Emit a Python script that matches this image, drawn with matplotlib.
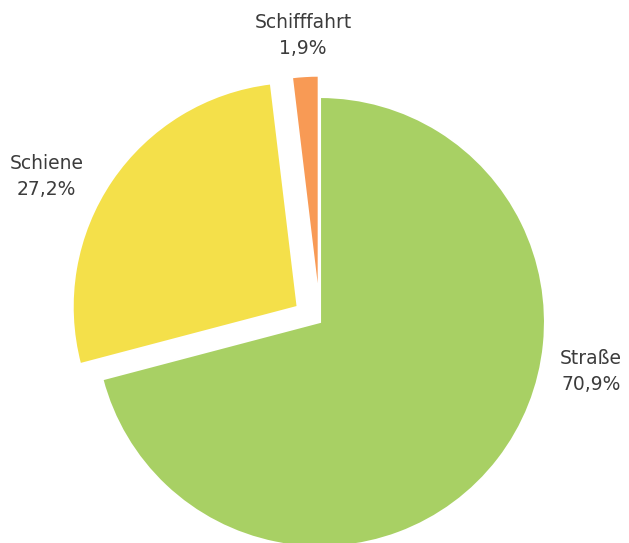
import matplotlib
matplotlib.use('Agg')
import matplotlib.pyplot as plt

labels = ['Straße', 'Schiene', 'Schifffahrt']
values = [70.9, 27.2, 1.9]
pct_text = ['70,9%', '27,2%', '1,9%']
colors = ['#a8d064', '#f4e04a', '#f89a55']
explode = [0, 0.12, 0.095]

# label anchor points (data units, radius = 1)
label_pos = [(1.205, -0.22), (-1.215, 0.645), (-0.075, 1.275)]

fig = plt.figure(figsize=(6.29, 5.43), dpi=100)
ax = fig.add_axes([0, 0, 1, 1])

ax.pie(values, colors=colors, explode=explode, startangle=90, counterclock=False,
       radius=1, wedgeprops=dict(edgecolor='white', linewidth=1.5))

for name, pct, (x, y) in zip(labels, pct_text, label_pos):
    ax.text(x, y, name + '\n' + pct, ha='center', va='center', fontsize=13.5,
            family='DejaVu Sans', color='#3c3c3c', linespacing=1.45)

ax.set_xlim(-320 / 225, (629 - 320) / 225)
ax.set_ylim(-(543 - 322) / 225, 322 / 225)
ax.set_aspect('auto')
ax.axis('off')

fig.savefig('out.png', dpi=100)
